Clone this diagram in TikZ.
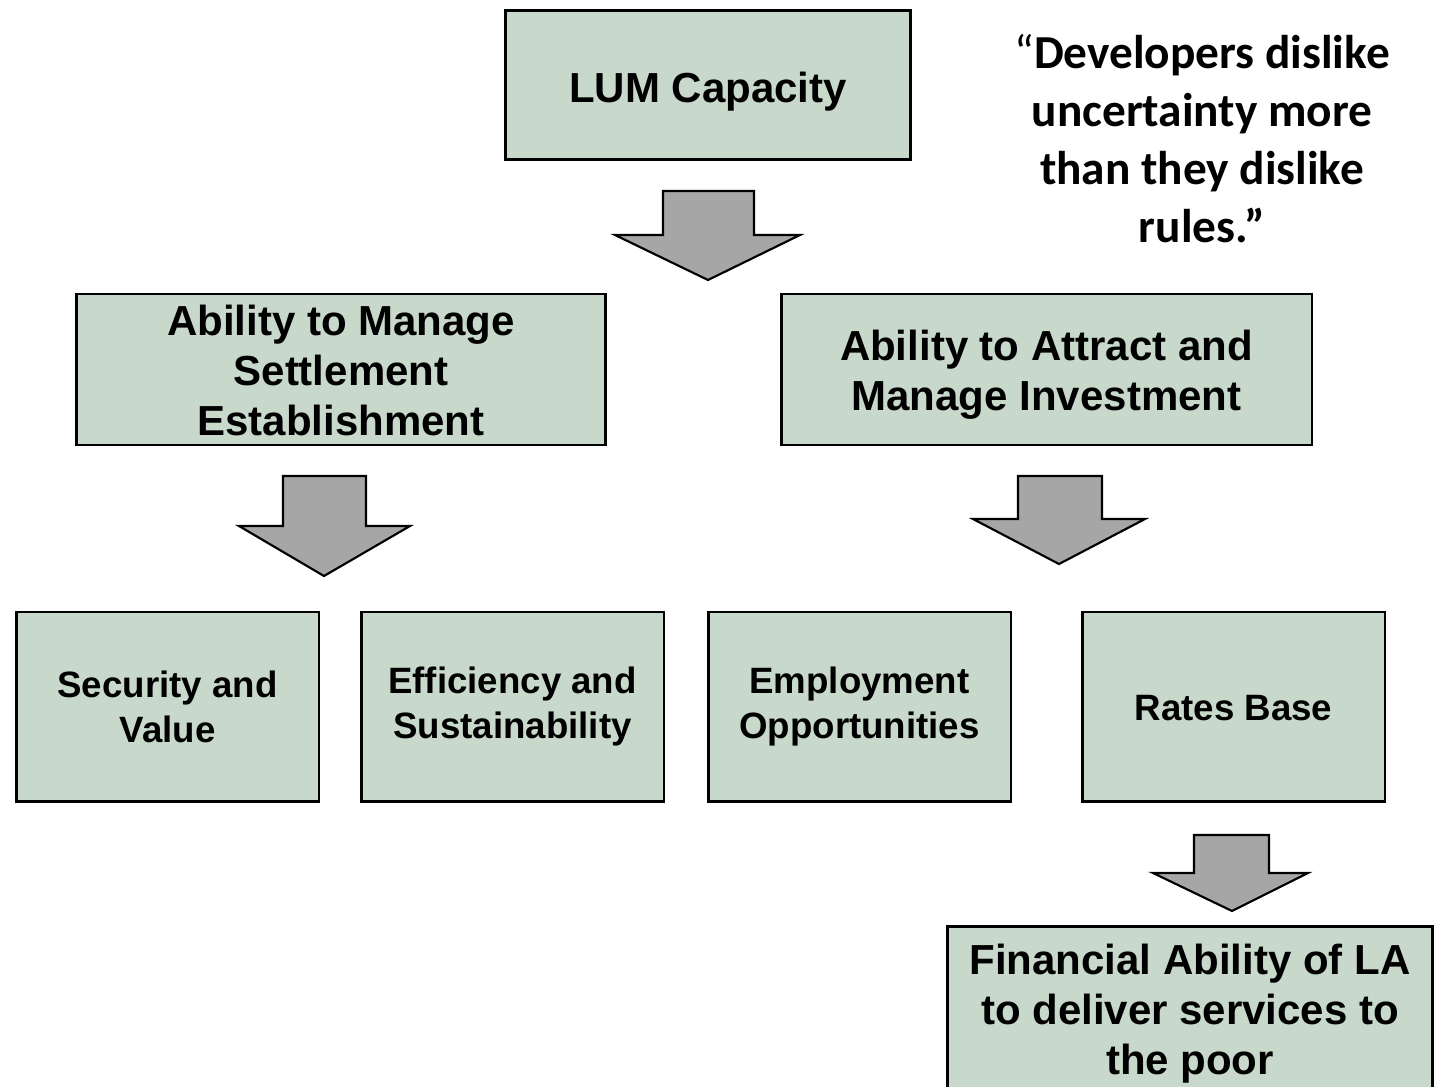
\documentclass[tikz,border=0pt]{standalone}
\usepackage{fontspec}
\setmainfont{Liberation Sans}
\newfontfamily\quotefont{Carlito}
\usetikzlibrary{shapes,arrows}

\definecolor{boxgreen}{HTML}{C8D9CB}
\definecolor{arrowgrey}{HTML}{A6A6A6}
% text block lowered inside its box
\newcommand{\lowertext}[3]{\raisebox{-#1}[\height][\depth]{\parbox{#2}{\centering #3}}}

\begin{document}
\begin{tikzpicture}[x=0.75pt,y=-0.75pt,
    bigbox/.style={draw, line width=2pt, fill=boxgreen, align=center, inner sep=0pt,
        font=\fontsize{31.5}{37.5}\selectfont\bfseries},
    smallbox/.style={draw, line width=2pt, fill=boxgreen, align=center, inner sep=0pt,
        minimum width=227pt, minimum height=142pt,
        font=\fontsize{27.5}{33.75}\selectfont\bfseries},
    blockarrow/.style={draw, line width=1.6pt, fill=arrowgrey, line join=miter}]
            \useasboundingbox (0,0) rectangle (1441,1087);

            % Draw boxes
            \node[bigbox, minimum width=304pt, minimum height=112pt] (lum) at (708,85)
                {\lowertext{5.25pt}{300pt}{LUM Capacity}};
            \node[bigbox, minimum width=397pt, minimum height=113pt] (settle) at (341,369.5)
                {\lowertext{0.75pt}{395pt}{Ability to Manage\\Settlement\\Establishment}};
            \node[bigbox, minimum width=398pt, minimum height=113pt] (invest) at (1046.5,369.5)
                {\lowertext{3.75pt}{395pt}{Ability to Attract and\\Manage Investment}};
            \node[smallbox] (security) at (167.5,706.5) {Security and\\Value};
            \node[smallbox] (efficiency) at (512.5,706.5) {Efficiency and\\Sustainability};
            \node[smallbox] (employment) at (859.5,706.5) {Employment\\Opportunities};
            \node[smallbox] (rates) at (1233.5,706.5) {\lowertext{1.5pt}{220pt}{Rates Base}};
            \node[bigbox, minimum width=364pt, minimum height=135pt, anchor=north] (finance) at (1190,925)
                {\lowertext{-2.25pt}{364pt}{Financial Ability of LA\\to deliver services to\\the poor}};

            % Draw arrows
            \draw[blockarrow] (663,191) -- (754,191) -- (754,235) -- (800,235) -- (708,280)
                -- (615,235) -- (663,235) -- cycle;
            \draw[blockarrow] (283,476) -- (366,476) -- (366,526) -- (410,526) -- (324,576)
                -- (239,526) -- (283,526) -- cycle;
            \draw[blockarrow] (1018,476) -- (1102,476) -- (1102,519) -- (1145,519) -- (1059,564)
                -- (973,519) -- (1018,519) -- cycle;
            \draw[blockarrow] (1194,835) -- (1269,835) -- (1269,873) -- (1308,873) -- (1232,911)
                -- (1153,873) -- (1194,873) -- cycle;

            % Add quote
            \node[align=center, font=\quotefont\fontsize{35.5}{43.5}\selectfont\bfseries] (quote) at (1202,139)
                {{\mdseries “}Developers dislike\\uncertainty more\\than they dislike\\rules.”};
\end{tikzpicture}
\end{document}
